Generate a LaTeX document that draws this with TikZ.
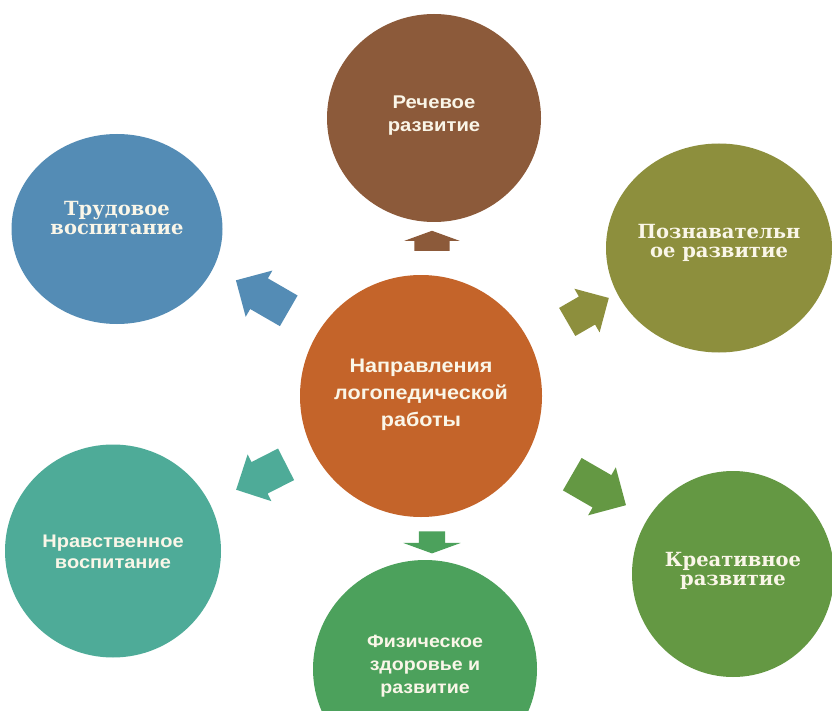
\documentclass[tikz,border=0pt]{standalone}
\usepackage{fontspec}
\setmainfont{Liberation Sans}
\newfontfamily\sansb{Liberation Sans}[FakeStretch=1.1]
\newfontfamily\serifb{DejaVu Serif}
\usetikzlibrary{shapes.geometric,shapes.arrows}
\definecolor{cOrange}{RGB}{196,100,42}
\definecolor{cBrown}{RGB}{140,90,58}
\definecolor{cBlue}{RGB}{84,140,181}
\definecolor{cOlive}{RGB}{141,143,61}
\definecolor{cGreen}{RGB}{100,152,67}
\definecolor{cTeal}{RGB}{78,171,152}
\definecolor{cFiz}{RGB}{76,161,92}
\definecolor{cText}{RGB}{250,246,232}
\begin{document}
\begin{tikzpicture}[x=1pt,y=-1pt,
  bubble/.style={ellipse, draw=none, fill=#1, inner sep=0pt},
  stxt/.style={text=cText, align=center, inner sep=0pt, font=\sansb\bfseries\fontsize{18.4}{22}\selectfont},
  rtxt/.style={text=cText, align=center, inner sep=0pt, font=\serifb\bfseries\fontsize{19.5}{18.5}\selectfont},
  barrow/.style={single arrow, draw=none, fill=#1, inner xsep=0pt, minimum width=0pt}
]
\clip (0,0) rectangle (832,711);
\fill[white] (0,0) rectangle (832,711);

% circles
\node[bubble=cOrange, minimum width=242pt, minimum height=242pt] (center) at (421,396) {};
\node[bubble=cBrown, minimum width=214pt, minimum height=208pt] (rech) at (434,118) {};
\node[bubble=cBlue, minimum width=211pt, minimum height=190pt] (trud) at (117,229) {};
\node[bubble=cOlive, minimum width=226pt, minimum height=209pt] (pozn) at (719,248) {};
\node[bubble=cGreen, minimum width=202pt, minimum height=206pt] (kreat) at (733,574) {};
\node[bubble=cTeal, minimum width=216pt, minimum height=213pt] (nrav) at (113,551) {};
\node[bubble=cFiz, minimum width=224pt, minimum height=218pt] (fiz) at (425,669) {};

% texts
\node[stxt, font=\sansb\bfseries\fontsize{19.6}{27}\selectfont] (t-center) at (421,395) {Направления\\логопедической\\работы};
\node[stxt, font=\sansb\bfseries\fontsize{18.4}{23}\selectfont] (t-rech) at (434,116) {Речевое\\развитие};
\node[rtxt] (t-trud) at (117,218) {Трудовое\\воспитание};
\node[rtxt] (t-pozn) at (719,243) {Познавательн\\ое развитие};
\node[rtxt] (t-kreat) at (733,571) {Креативное\\развитие};
\node[stxt, font=\sansb\bfseries\fontsize{18.2}{20.5}\selectfont] (t-nrav) at (113,552) {Нравственное\\воспитание};
\node[stxt, font=\sansb\bfseries\fontsize{17.8}{23}\selectfont] (t-fiz) at (425,666) {Физическое\\здоровье и\\развитие};

% block arrows
\node[barrow=cBrown, minimum height=20pt, inner ysep=17.5pt, single arrow head extend=10pt, single arrow tip angle=140, rotate=90] (a-rech) at (432,244) {};
\node[barrow=cFiz, minimum height=22pt, inner ysep=13pt, single arrow head extend=15.5pt, single arrow tip angle=140, rotate=-90] (a-fiz) at (432,540) {};
\node[barrow=cBlue, minimum height=61pt, inner ysep=17.5pt, single arrow head extend=9pt, rotate=150] (a-trud) at (270,300) {};
\node[barrow=cOlive, minimum height=48pt, inner ysep=16pt, single arrow head extend=9pt, rotate=30] (a-pozn) at (581,314) {};
\node[barrow=cTeal, minimum height=56pt, inner ysep=17.5pt, single arrow head extend=8.5pt, rotate=207] (a-nrav) at (269,473) {};
\node[barrow=cGreen, minimum height=62pt, inner ysep=18.5pt, single arrow head extend=9pt, rotate=-30] (a-kreat) at (591,485) {};
\end{tikzpicture}
\end{document}
